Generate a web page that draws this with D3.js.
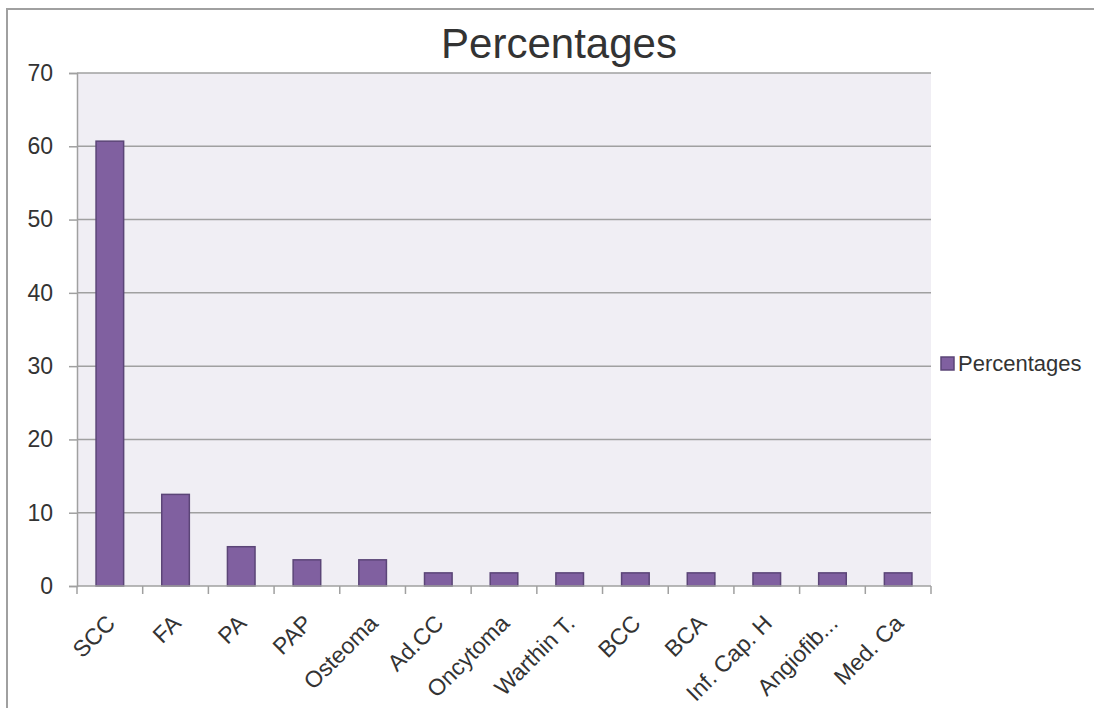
<!DOCTYPE html>
<html>
<head>
<meta charset="utf-8">
<script src="https://cdn.jsdelivr.net/npm/d3@7"></script>
<style>
  html, body { margin: 0; padding: 0; background: #ffffff; }
  svg { display: block; }
  text { font-family: "Liberation Sans", Arial, sans-serif; fill: #333333; }
</style>
</head>
<body>
<svg id="chart" width="1094" height="708"></svg>
<script>
const categories = ["SCC", "FA", "PA", "PAP", "Osteoma", "Ad.CC", "Oncytoma", "Warthin T.", "BCC", "BCA", "Inf. Cap. H", "Angiofib...", "Med. Ca"];
const values = [60.7, 12.5, 5.36, 3.57, 3.57, 1.79, 1.79, 1.79, 1.79, 1.79, 1.79, 1.79, 1.79];
const yTicks = [0, 10, 20, 30, 40, 50, 60, 70];
const seriesName = "Percentages";
const chartTitle = "Percentages";

const svg = d3.select("#chart");
const W = 1094, H = 708;
const plot = { left: 77, right: 931, top: 73, bottom: 586 };

// outer border (right and bottom edges beyond the window)
svg.append("rect")
  .attr("x", 7).attr("y", 9)
  .attr("width", W + 10).attr("height", H + 10)
  .attr("fill", "#ffffff")
  .attr("stroke", "#a0a0a0").attr("stroke-width", 2);

const x = d3.scaleBand().domain(categories).range([plot.left, plot.right]).paddingInner(0.58).paddingOuter(0.29);
const xOuter = d3.scaleBand().domain(categories).range([plot.left, plot.right]);
const y = d3.scaleLinear().domain([0, 70]).range([plot.bottom, plot.top]);

// plot background
svg.append("rect")
  .attr("x", plot.left).attr("y", plot.top)
  .attr("width", plot.right - plot.left).attr("height", plot.bottom - plot.top)
  .attr("fill", "#f0eef4");

// gridlines
svg.append("g").selectAll("line").data(yTicks.filter(d => d > 0)).join("line")
  .attr("x1", plot.left).attr("x2", plot.right)
  .attr("y1", d => y(d)).attr("y2", d => y(d))
  .attr("stroke", "#a0a0a0").attr("stroke-width", 1.5);

// y axis
const yAxis = d3.axisLeft(y).tickValues(yTicks).tickSize(8).tickPadding(16).tickFormat(d3.format("d"));
const gy = svg.append("g").attr("transform", `translate(${plot.left},0)`).call(yAxis);
gy.select(".domain").attr("stroke", "#a0a0a0").attr("stroke-width", 1.5);
gy.selectAll(".tick line").attr("stroke", "#a0a0a0").attr("stroke-width", 1.5);
gy.selectAll(".tick text").attr("font-size", 23).attr("fill", "#333333")
  .style("font-family", "'Liberation Sans', Arial, sans-serif");

// bars
svg.append("g").selectAll("rect").data(values).join("rect")
  .attr("x", (d, i) => x(categories[i]))
  .attr("y", d => y(d))
  .attr("width", x.bandwidth())
  .attr("height", d => plot.bottom - y(d))
  .attr("fill", "#8060a0")
  .attr("stroke", "#5b4577").attr("stroke-width", 1.5);

// x axis
const bounds = categories.map(c => xOuter(c)).concat([plot.right]);
const gx = svg.append("g");
gx.append("line")
  .attr("x1", plot.left).attr("x2", plot.right)
  .attr("y1", plot.bottom).attr("y2", plot.bottom)
  .attr("stroke", "#a0a0a0").attr("stroke-width", 1.5);
gx.selectAll("line.tk").data(bounds).join("line").attr("class", "tk")
  .attr("x1", d => d).attr("x2", d => d)
  .attr("y1", plot.bottom).attr("y2", plot.bottom + 8)
  .attr("stroke", "#a0a0a0").attr("stroke-width", 1.5);
gx.selectAll("text").data(categories).join("text")
  .attr("transform", d => `translate(${xOuter(d) + xOuter.bandwidth() / 2 + 1},${plot.bottom + 33}) rotate(-45)`)
  .attr("text-anchor", "end")
  .attr("dy", "0.35em")
  .attr("font-size", 23)
  .text(d => d);

// title
svg.append("text")
  .attr("x", 559).attr("y", 58)
  .attr("text-anchor", "middle")
  .attr("font-size", 42)
  .text(chartTitle);

// legend
const lg = svg.append("g").attr("transform", "translate(941,357)");
lg.append("rect").attr("x", 0).attr("y", 0).attr("width", 13).attr("height", 13)
  .attr("fill", "#8060a0").attr("stroke", "#5b4577").attr("stroke-width", 1.5);
lg.append("text").attr("x", 17).attr("y", 6.5).attr("dy", "0.35em")
  .attr("font-size", 22).text(seriesName);
</script>
</body>
</html>
